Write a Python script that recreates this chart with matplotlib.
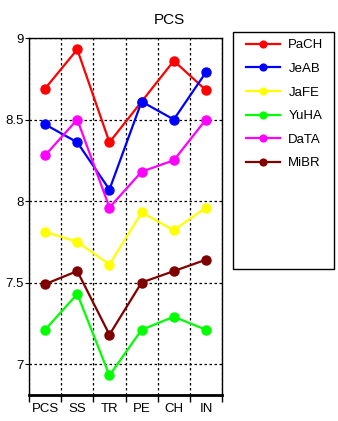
import matplotlib
matplotlib.use('Agg')
import matplotlib.pyplot as plt
from matplotlib.patches import Rectangle
import numpy as np

plt.rcParams['font.family'] = 'Liberation Sans'

# Datos
categorias = ['PCS', 'SS', 'TR', 'PE', 'CH', 'IN']
series = ['PaCH', 'JeAB', 'JaFE', 'YuHA', 'DaTA', 'MiBR']
pach = [8.69, 8.93, 8.36, 8.61, 8.86, 8.68]
jeab = [8.47, 8.36, 8.07, 8.61, 8.50, 8.79]
jafe = [7.81, 7.75, 7.61, 7.93, 7.82, 7.96]
yuha = [7.21, 7.43, 6.93, 7.21, 7.29, 7.21]
data = [8.28, 8.50, 7.96, 8.18, 8.25, 8.50]
mibr = [7.49, 7.57, 7.18, 7.50, 7.57, 7.64]
colores = ['#ff0000', '#0000ff', '#ffff00', '#00ff00', '#ff00ff', '#800000']
valores = [pach, jeab, jafe, yuha, data, mibr]

fig = plt.figure(figsize=(3.38, 4.21), dpi=100)
ax = fig.add_axes([0.0858, 0.0618, 0.657 - 0.0858, 0.9097 - 0.0618])

x = np.arange(len(categorias))
for nombre, vals, c in zip(series, valores, colores):
    ax.plot(x, vals, '-o', color=c, lw=1.6, ms=6.5, label=nombre)

ax.set_xlim(-0.47, 5.5)
ax.set_ylim(6.81, 9.0)
ax.set_yticks([7, 7.5, 8, 8.5, 9])
ax.set_yticklabels(['7', '7.5', '8', '8.5', '9'])

# x: marcas en los bordes de categoria, etiquetas en el centro
ax.set_xticks(np.arange(-0.5, 6, 1))
ax.set_xticklabels([''] * 7)
ax.set_xticks(x, minor=True)
ax.set_xticklabels(categorias, minor=True)
ax.tick_params(axis='x', which='major', direction='out', length=5, width=1, color='black')
ax.tick_params(axis='x', which='minor', length=0, labelsize=9.5, pad=6)
ax.tick_params(axis='y', direction='out', length=3, labelsize=9.5, pad=1)

ax.grid(True, which='major', color='black', linestyle=(0, (2, 2)), linewidth=0.9)
for s in ax.spines.values():
    s.set_color('black')
    s.set_linewidth(1)
ax.spines['bottom'].set_linewidth(2)

fig.text(0.5, 0.953, 'PCS', ha='center', va='center', fontsize=11)

# Leyenda con recuadro fijo
fig.patches.append(Rectangle((0.689, 0.361), 0.988 - 0.689, 0.924 - 0.361,
                             transform=fig.transFigure, fill=False,
                             edgecolor='black', lw=1))
handles, labels = ax.get_legend_handles_labels()
fig.legend(handles, labels, loc='upper left', bbox_to_anchor=(0.693, 0.935),
           frameon=False, fontsize=9.5, handlelength=2.6, labelspacing=0.86,
           handletextpad=0.6, markerscale=0.75)

fig.savefig('out.png', dpi=100)
